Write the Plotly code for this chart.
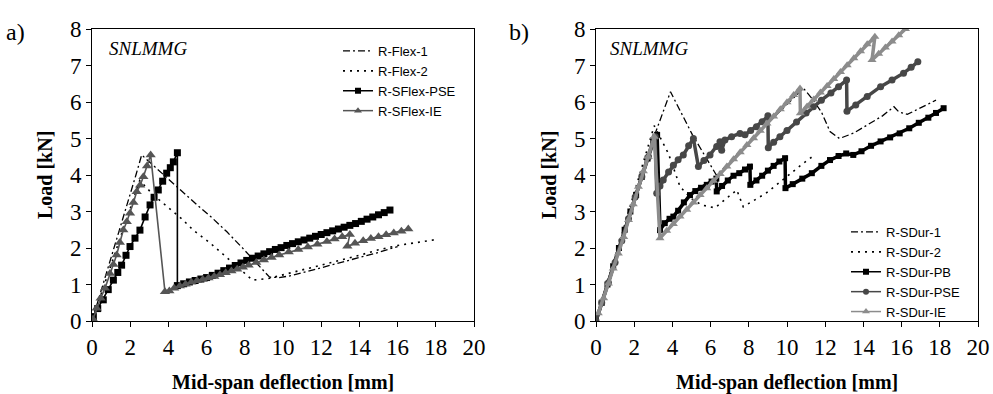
import plotly.graph_objects as go

# ---------------- Panel a) data ----------------
flex1_x = [0.0, 0.35, 0.75, 1.15, 1.55, 1.95, 2.3, 2.6, 3.5, 4.5, 5.5, 6.3, 7.05, 7.9, 8.6, 9.3, 9.8, 10.3, 11.0, 12.0, 13.0, 14.0, 15.0, 16.0]
flex1_y = [0.0, 0.6, 1.3, 2.0, 2.7, 3.4, 4.0, 4.55, 4.12, 3.65, 3.18, 2.82, 2.45, 1.99, 1.6, 1.2, 1.19, 1.23, 1.32, 1.46, 1.59, 1.72, 1.88, 2.04]

flex2_x = [0.0, 0.4, 0.8, 1.2, 1.6, 2.0, 2.5, 3.2, 4.0, 4.7, 5.3, 6.2, 7.1, 7.8, 8.4, 9.3, 10.0, 11.0, 12.0, 13.0, 14.0, 15.0, 16.0, 17.0, 18.1]
flex2_y = [0.0, 0.62, 1.25, 1.87, 2.5, 3.12, 3.85, 3.46, 3.1, 2.8, 2.49, 2.13, 1.72, 1.4, 1.12, 1.17, 1.27, 1.4, 1.53, 1.66, 1.8, 1.95, 2.07, 2.15, 2.24]

sflex_pse_x = [0.07, 0.3, 0.59, 0.85, 1.12, 1.35, 1.55, 1.78, 1.99, 2.25, 2.51, 2.78, 3.04, 3.25, 3.47, 3.7, 3.91, 4.1, 4.26, 4.47,
               4.47, 4.8, 5.1, 5.4, 5.7, 6.0, 6.3, 6.6, 6.9, 7.2, 7.5, 7.8, 8.1, 8.4, 8.7, 9.0, 9.3, 9.6, 9.9, 10.2,
               10.5, 10.8, 11.1, 11.4, 11.7, 12.0, 12.3, 12.6, 12.9, 13.2, 13.5, 13.8, 14.1, 14.4, 14.7, 15.0, 15.3, 15.6]
sflex_pse_y = [0.12, 0.34, 0.58, 0.86, 1.12, 1.33, 1.53, 1.8, 2.04, 2.27, 2.49, 2.85, 3.18, 3.39, 3.59, 3.83, 4.05, 4.2, 4.36, 4.61,
               0.97, 1.02, 1.07, 1.11, 1.15, 1.19, 1.25, 1.31, 1.38, 1.45, 1.52, 1.59, 1.66, 1.72, 1.78, 1.84, 1.9, 1.96, 2.01, 2.07,
               2.12, 2.17, 2.22, 2.27, 2.32, 2.37, 2.42, 2.47, 2.52, 2.57, 2.62, 2.67, 2.73, 2.79, 2.85, 2.91, 2.97, 3.04]

sflex_ie_x = [0.05, 0.24, 0.45, 0.68, 0.94, 1.12, 1.29, 1.46, 1.64, 1.82, 1.99, 2.17, 2.34, 2.52, 2.69, 2.88, 3.07,
              3.82, 4.05, 4.3, 4.6, 4.9, 5.2, 5.5, 5.8, 6.1, 6.4, 6.7, 7.0, 7.3, 7.6, 7.9, 8.2, 8.6, 9.0, 9.4, 9.8,
              10.3, 10.8, 11.3, 11.8, 12.3, 12.7, 13.1, 13.5, 13.37, 13.77, 14.2, 14.6, 15.0, 15.4, 15.8, 16.2, 16.56]
sflex_ie_y = [0.05, 0.35, 0.62, 0.9, 1.3, 1.55, 1.81, 2.15, 2.49, 2.72, 2.95, 3.25, 3.54, 3.72, 3.95, 4.25, 4.55,
              0.8, 0.82, 0.9, 0.96, 1.01, 1.06, 1.1, 1.14, 1.18, 1.22, 1.27, 1.32, 1.37, 1.42, 1.47, 1.53, 1.6, 1.67, 1.74, 1.81,
              1.89, 1.96, 2.03, 2.1, 2.18, 2.25, 2.31, 2.37, 2.05, 2.13, 2.2, 2.26, 2.31, 2.36, 2.41, 2.46, 2.52]

# ---------------- Panel b) data ----------------
sdur1_x = [0.0, 0.6, 1.2, 1.8, 2.4, 3.1, 3.9, 5.05, 6.3, 7.0, 8.0, 9.0, 10.0, 10.86, 11.3, 11.8, 12.25, 12.75, 13.5, 14.35, 15.0, 15.6, 15.85, 16.3, 17.0, 17.8]
sdur1_y = [0.0, 1.0, 2.0, 3.0, 3.95, 5.14, 6.28, 5.1, 4.0, 4.35, 4.9, 5.42, 5.93, 6.38, 6.1, 5.73, 5.19, 5.0, 5.15, 5.42, 5.62, 5.87, 5.73, 5.66, 5.85, 6.05]

sdur2_x = [0.0, 0.6, 1.2, 1.8, 2.4, 3.05, 3.79, 4.4, 5.0, 5.53, 6.23, 6.84, 7.37, 7.71, 8.9, 9.98, 10.8, 11.45]
sdur2_y = [0.0, 1.05, 2.1, 3.15, 4.2, 5.35, 4.59, 3.68, 3.35, 3.18, 3.1, 3.36, 3.59, 3.13, 3.5, 3.95, 4.3, 4.55]

sdur_pb_x = [0.0, 0.3, 0.6, 0.9, 1.2, 1.5, 1.8, 2.1, 2.4, 2.7, 3.0, 3.2,
             3.35, 3.6, 3.85, 4.05, 4.3, 4.6, 4.92, 5.2, 5.5, 5.8, 6.05, 6.3,
             6.32, 6.6, 6.9, 7.2, 7.5, 7.8, 8.06,
             8.08, 8.4, 8.7, 9.0, 9.3, 9.6, 9.9,
             9.92, 10.3, 10.8, 11.3, 11.8, 12.25, 12.7, 13.1, 13.47, 13.9, 14.4, 14.9, 15.4, 15.9, 16.4, 16.9, 17.4, 17.8, 18.2]
sdur_pb_y = [0.0, 0.5, 1.0, 1.5, 2.0, 2.5, 3.0, 3.45, 3.95, 4.45, 4.95, 5.1,
             2.49, 2.68, 2.8, 2.86, 3.02, 3.25, 3.45, 3.56, 3.65, 3.73, 3.82, 3.9,
             3.55, 3.7, 3.85, 3.98, 4.05, 4.15, 4.23,
             3.73, 3.85, 3.98, 4.12, 4.25, 4.37, 4.46,
             3.64, 3.75, 3.9, 4.05, 4.25, 4.41, 4.52, 4.59, 4.55, 4.65, 4.8, 4.92, 5.03, 5.14, 5.28, 5.43, 5.57, 5.7, 5.83]

sdur_pse_x = [0.0, 0.3, 0.65, 1.0, 1.35, 1.7, 2.05, 2.4, 2.75, 3.1,
              3.18, 3.35, 3.52, 3.8, 4.05, 4.3, 4.57, 4.85, 5.1,
              5.36, 5.65, 5.97, 6.32, 6.49,
              6.58, 6.75, 7.1, 7.54, 7.8, 8.1, 8.4, 8.7, 9.0,
              9.02, 9.3, 9.63, 10.0, 10.5, 11.0, 11.38, 11.8, 12.3, 12.7, 13.12,
              13.14, 13.6, 14.2, 14.9, 15.5, 16.1, 16.5, 16.85]
sdur_pse_y = [0.0, 0.5, 1.05, 1.6, 2.2, 2.8, 3.4, 3.95, 4.5, 5.05,
              3.5, 3.7, 3.86, 4.08, 4.27, 4.42, 4.55, 4.8, 5.0,
              4.23, 4.4, 4.55, 4.78, 4.91,
              4.68, 4.96, 5.05, 5.14, 5.1, 5.22, 5.32, 5.46, 5.62,
              4.75, 4.9, 5.05, 5.22, 5.45, 5.7, 5.87, 6.05, 6.25, 6.42, 6.6,
              5.75, 5.92, 6.15, 6.42, 6.6, 6.79, 6.95, 7.1]

sdur_ie_x = [0.12, 0.4, 0.65, 0.9, 1.17, 1.45, 1.7, 1.95, 2.22, 2.48, 2.74, 3.05,
             3.35, 3.7, 4.05, 4.4, 4.75, 5.1, 5.45, 5.8, 6.15, 6.5, 6.85, 7.2, 7.55, 7.9, 8.25, 8.6, 8.95, 9.3, 9.65, 10.0, 10.35, 10.68,
             10.7, 11.05, 11.4, 11.75, 12.1, 12.45, 12.8, 13.15, 13.5, 13.85, 14.2, 14.6,
             14.45, 14.8, 15.15, 15.5, 15.85, 16.2]
sdur_ie_y = [0.21, 0.62, 1.03, 1.44, 1.85, 2.3, 2.77, 3.2, 3.68, 4.1, 4.5, 5.05,
             2.27, 2.47, 2.66, 2.86, 3.05, 3.25, 3.45, 3.64, 3.84, 4.03, 4.23, 4.43, 4.62, 4.82, 5.01, 5.21, 5.41, 5.6, 5.8, 5.99, 6.19, 6.37,
             5.69, 5.88, 6.07, 6.26, 6.44, 6.63, 6.82, 7.01, 7.2, 7.39, 7.58, 7.79,
             7.15, 7.32, 7.49, 7.66, 7.83, 8.0]

x_ticks = [0, 2, 4, 6, 8, 10, 12, 14, 16, 18, 20]
y_ticks = [0, 1, 2, 3, 4, 5, 6, 7, 8]

SERIF = "Liberation Serif"
SANS = "Liberation Sans"

fig = go.Figure()


def add(x, y, name, xa, ya, leg, color, width, dash="solid", symbol=None, msize=0, leg_width=1.5, leg_msize=6):
    mode = "lines+markers" if symbol else "lines"
    tr = go.Scatter(x=x, y=y, name=name, xaxis=xa, yaxis=ya, mode=mode, showlegend=False,
                    line=dict(color=color, width=width, dash=dash))
    if symbol:
        tr.marker = dict(symbol=symbol, size=msize, color=color, line=dict(width=0))
    fig.add_trace(tr)
    # legend entry (draws no data points)
    lt = go.Scatter(x=[None], y=[None], name=name, xaxis=xa, yaxis=ya, legend=leg, mode=mode,
                    line=dict(color=color, width=leg_width, dash=dash))
    if symbol:
        lt.marker = dict(symbol=symbol, size=leg_msize, color=color, line=dict(width=0))
    fig.add_trace(lt)


DASHDOT = "7px,3px,2px,3px"
DOT = "2px,5px"

add(flex1_x, flex1_y, "R-Flex-1", "x", "y", "legend", "black", 1.3, DASHDOT, leg_width=1.3)
add(flex2_x, flex2_y, "R-Flex-2", "x", "y", "legend", "black", 1.6, DOT, leg_width=1.6)
add(sflex_pse_x, sflex_pse_y, "R-SFlex-PSE", "x", "y", "legend", "black", 1.6, "solid", "square", 7)
add(sflex_ie_x, sflex_ie_y, "R-SFlex-IE", "x", "y", "legend", "#555555", 1.6, "solid", "triangle-up", 9, leg_msize=7)

add(sdur1_x, sdur1_y, "R-SDur-1", "x2", "y2", "legend2", "black", 1.3, DASHDOT, leg_width=1.3)
add(sdur2_x, sdur2_y, "R-SDur-2", "x2", "y2", "legend2", "black", 1.6, DOT, leg_width=1.6)
add(sdur_pb_x, sdur_pb_y, "R-SDur-PB", "x2", "y2", "legend2", "black", 3.5, "solid", "square", 6)
add(sdur_pse_x, sdur_pse_y, "R-SDur-PSE", "x2", "y2", "legend2", "#474747", 3.5, "solid", "circle", 7)
add(sdur_ie_x, sdur_ie_y, "R-SDur-IE", "x2", "y2", "legend2", "#8c8c8c", 3.5, "solid", "triangle-up", 8, leg_msize=7)

W, H = 993, 394
px_l1, px_r1 = 92, 474
px_l2, px_r2 = 596, 978
py_t, py_b = 29, 321

axis_common = dict(showline=True, linecolor="black", linewidth=1, mirror=True, ticks="outside",
                   ticklen=5, tickcolor="black", tickwidth=1, showgrid=False, zeroline=False,
                   automargin=False, tickfont=dict(family=SERIF, size=23, color="black"))

xa = dict(range=[0, 20], tickvals=x_ticks, **axis_common)
ya = dict(range=[0, 8], tickvals=y_ticks, **axis_common)

fig.update_layout(
    template="none",
    width=W, height=H, autosize=False,
    margin=dict(l=0, r=0, t=0, b=0, pad=0, autoexpand=False),
    paper_bgcolor="white", plot_bgcolor="white",
    font=dict(family=SERIF, color="black"),
    xaxis=dict(domain=[px_l1 / W, px_r1 / W], anchor="y", **xa),
    yaxis=dict(domain=[1 - py_b / H, 1 - py_t / H], anchor="x", **ya),
    xaxis2=dict(domain=[px_l2 / W, px_r2 / W], anchor="y2", **xa),
    yaxis2=dict(domain=[1 - py_b / H, 1 - py_t / H], anchor="x2", **ya),
    legend=dict(x=338 / W, y=1 - 36 / H, xanchor="left", yanchor="top", bgcolor="rgba(0,0,0,0)",
                borderwidth=0, font=dict(family=SANS, size=13, color="black"), tracegroupgap=0),
    legend2=dict(x=846 / W, y=1 - 217 / H, xanchor="left", yanchor="top", bgcolor="rgba(0,0,0,0)",
                 borderwidth=0, font=dict(family=SANS, size=13, color="black"), tracegroupgap=0),
    showlegend=True,
)

annots = [
    dict(text="a)", x=4 / W, y=1 - 32 / H, xanchor="left", yanchor="middle",
         font=dict(family=SERIF, size=24, color="black")),
    dict(text="b)", x=507 / W, y=1 - 32 / H, xanchor="left", yanchor="middle",
         font=dict(family=SERIF, size=24, color="black")),
    dict(text="<i>SNLMMG</i>", x=107 / W, y=1 - 49 / H, xanchor="left", yanchor="middle",
         font=dict(family=SERIF, size=19, color="black")),
    dict(text="<i>SNLMMG</i>", x=608 / W, y=1 - 49 / H, xanchor="left", yanchor="middle",
         font=dict(family=SERIF, size=19, color="black")),
    dict(text="<b>Load [kN]</b>", x=45 / W, y=1 - 175 / H, textangle=-90, xanchor="center", yanchor="middle",
         font=dict(family=SERIF, size=20, color="black")),
    dict(text="<b>Load [kN]</b>", x=549 / W, y=1 - 175 / H, textangle=-90, xanchor="center", yanchor="middle",
         font=dict(family=SERIF, size=20, color="black")),
    dict(text="<b>Mid-span deflection [mm]</b>", x=(px_l1 + px_r1) / 2 / W, y=1 - 382 / H, xanchor="center",
         yanchor="middle", font=dict(family=SERIF, size=20, color="black")),
    dict(text="<b>Mid-span deflection [mm]</b>", x=(px_l2 + px_r2) / 2 / W, y=1 - 382 / H, xanchor="center",
         yanchor="middle", font=dict(family=SERIF, size=20, color="black")),
]
for a in annots:
    a.update(xref="paper", yref="paper", showarrow=False)
fig.update_layout(annotations=annots)

fig.write_html("out.html")
